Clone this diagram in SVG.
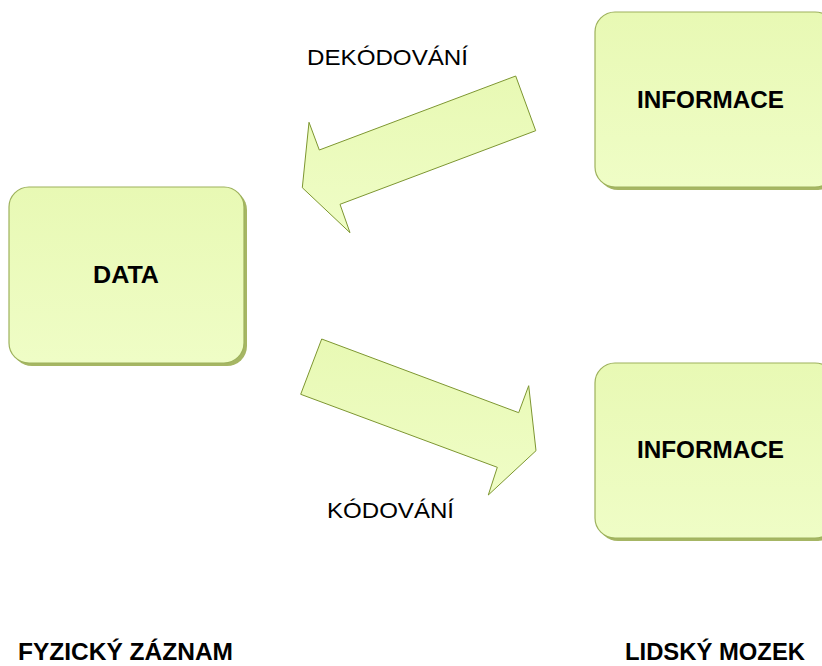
<svg xmlns="http://www.w3.org/2000/svg" width="822" height="666" viewBox="0 0 822 666">
<defs>
<linearGradient id="g" x1="0" y1="0" x2="0" y2="1">
<stop offset="0" stop-color="#e8f9b4"/>
<stop offset="1" stop-color="#effdc6"/>
</linearGradient>
<style>
.shadow{fill:#a6b664}
.box{fill:url(#g);stroke:#9db15c;stroke-width:1.2}
.arrow{fill:url(#g);stroke:#7d9630;stroke-width:1}
.lbl{font-family:"Liberation Sans",Arial,sans-serif;font-weight:bold;font-size:24px;fill:#000}
.reg{font-family:"Liberation Sans",Arial,sans-serif;font-size:22px;fill:#000}
.cap{font-family:"Liberation Sans",Arial,sans-serif;font-weight:bold;font-size:24px;fill:#000}
</style>
</defs>
<rect width="822" height="666" fill="#ffffff"/>
<g id="connectors">
<polygon class="arrow" points="515.7,76 535.7,130.7 340,204.3 350,232.7 302.3,187.7 309,122.3 319.3,150"/>
<polygon class="arrow" points="321.7,339 300.7,394.3 497.3,467.3 488.3,495 536,450.7 528.7,385.7 518.7,412.7"/>
</g>
<g id="node-data">
<rect class="shadow" x="12" y="190" width="235" height="176" rx="20"/>
<rect class="box" x="9" y="187" width="235" height="176" rx="20"/>
<text class="lbl" x="93" y="283" textLength="66" lengthAdjust="spacingAndGlyphs">DATA</text>
</g>
<g id="node-info-top">
<rect class="shadow" x="598" y="15" width="240" height="175" rx="20"/>
<rect class="box" x="595" y="12" width="240" height="175" rx="20"/>
<text class="lbl" x="637" y="108" textLength="147" lengthAdjust="spacingAndGlyphs">INFORMACE</text>
</g>
<g id="node-info-bottom">
<rect class="shadow" x="598" y="366" width="240" height="175" rx="20"/>
<rect class="box" x="595" y="363" width="240" height="175" rx="20"/>
<text class="lbl" x="637" y="458" textLength="147" lengthAdjust="spacingAndGlyphs">INFORMACE</text>
</g>
<g id="labels">
<text class="reg" x="307" y="65" textLength="161" lengthAdjust="spacingAndGlyphs">DEKÓDOVÁNÍ</text>
<text class="reg" x="327" y="518" textLength="127" lengthAdjust="spacingAndGlyphs">KÓDOVÁNÍ</text>
<text class="cap" x="18" y="660" textLength="215" lengthAdjust="spacingAndGlyphs">FYZICKÝ ZÁZNAM</text>
<text class="cap" x="625" y="660" textLength="180" lengthAdjust="spacingAndGlyphs">LIDSKÝ MOZEK</text>
</g>
</svg>
